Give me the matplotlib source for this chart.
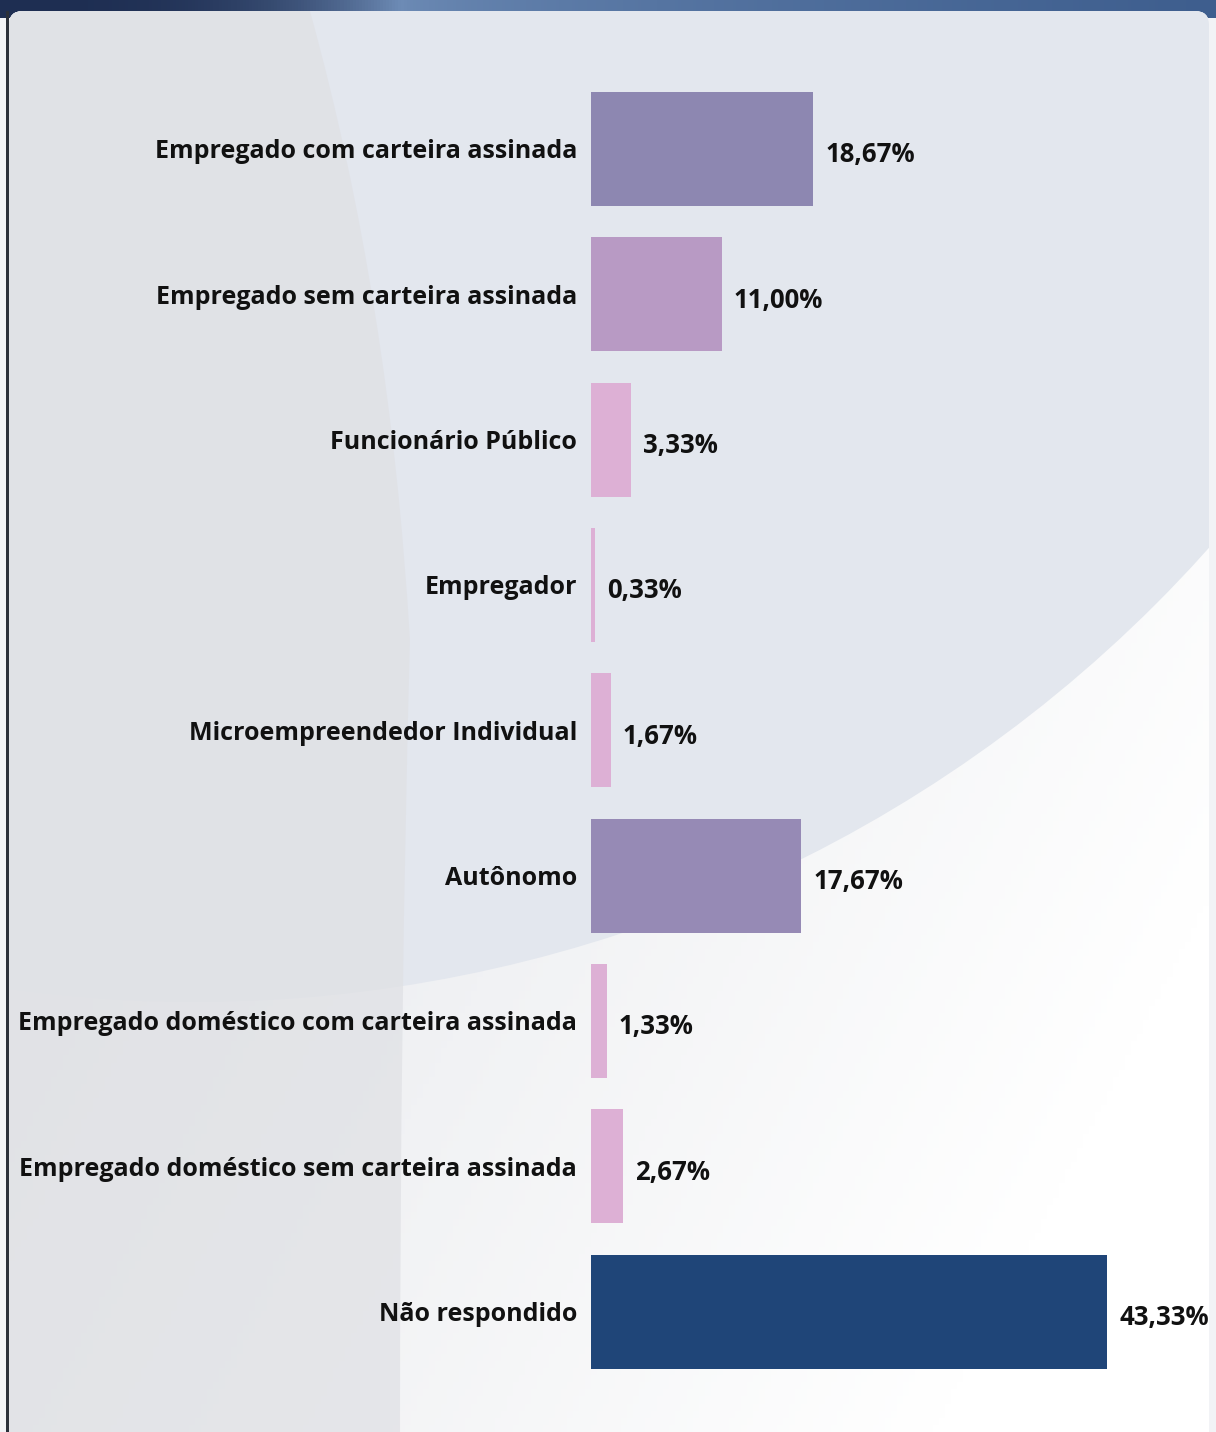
import matplotlib
matplotlib.use("Agg")
import matplotlib.pyplot as plt
import numpy as np
from matplotlib.patches import Rectangle, Circle, FancyBboxPatch, PathPatch
from matplotlib.path import Path

categories = [
    "Empregado com carteira assinada",
    "Empregado sem carteira assinada",
    "Funcionário Público",
    "Empregador",
    "Microempreendedor Individual",
    "Autônomo",
    "Empregado doméstico com carteira assinada",
    "Empregado doméstico sem carteira assinada",
    "Não respondido",
]
values = [18.67, 11.00, 3.33, 0.33, 1.67, 17.67, 1.33, 2.67, 43.33]
value_labels = ["18,67%", "11,00%", "3,33%", "0,33%", "1,67%", "17,67%", "1,33%", "2,67%", "43,33%"]
colors = ["#8D87B1", "#B89AC4", "#DDB0D5", "#DDB0D5", "#DDB0D5", "#968AB5", "#DDB0D5", "#DDB0D5", "#1F4578"]

W, H = 1216, 1432
fig = plt.figure(figsize=(W / 100, H / 100), dpi=100)
fig.patch.set_facecolor("#F2F3F6")

# ---- decorative background ----
bg = fig.add_axes([0, 0, 1, 1])
bg.set_xlim(0, W)
bg.set_ylim(H, 0)
bg.axis("off")

# top band gradient (dark blue)
band = np.zeros((1, 400, 3))
xs = np.linspace(0, 1, 400)
c_dark = np.array([0x1E, 0x2E, 0x52]) / 255
c_light = np.array([0x6E, 0x8C, 0xB6]) / 255
c_mid = np.array([0x3E, 0x5E, 0x8E]) / 255
for i, t in enumerate(xs):
    if t < 0.33:
        c = c_dark + (c_light - c_dark) * (t / 0.33) ** 3
    else:
        c = c_light + (c_mid - c_light) * ((t - 0.33) / 0.67) ** 0.6
    band[0, i] = c
bg.imshow(band, extent=(0, W, 18, 0), aspect="auto", zorder=0)

panel = FancyBboxPatch((9, 11), W - 16, H + 40, boxstyle="round,pad=0,rounding_size=14",
                       facecolor="#FFFFFF", edgecolor="none", zorder=1)
bg.add_patch(panel)

# soft grey-to-white gradient on the panel
yy, xx = np.mgrid[0:1:200j, 0:1:200j]
shade = np.zeros((200, 200, 4))
shade[..., :3] = np.array([0xE4, 0xE6, 0xEA]) / 255
shade[..., 3] = np.clip(1.25 - 0.9 * xx - 0.55 * yy, 0, 1)
im = bg.imshow(shade, extent=(9, W - 7, H, 11), aspect="auto", zorder=2)
im.set_clip_path(panel)

# large bluish disc in the upper area
disc = Circle((195, -357), 1359, facecolor="#E3E7EE", edgecolor="none", zorder=3)
bg.add_patch(disc)
disc.set_clip_path(panel)

# darker grey region on the left
verts = [(9, 11), (310, 11), (390, 300), (410, 640), (400, 1000), (400, H + 5), (9, H + 5), (9, 11)]
codes = [Path.MOVETO, Path.LINETO, Path.CURVE3, Path.CURVE3, Path.CURVE3, Path.LINETO,
         Path.LINETO, Path.CLOSEPOLY]
left = PathPatch(Path(verts, codes), facecolor="#DFE0E4", edgecolor="none", alpha=0.7, zorder=4)
bg.add_patch(left)
left.set_clip_path(panel)

bg.add_patch(Rectangle((6, 11), 2.5, H, facecolor="#2B303A", edgecolor="none", zorder=5))

# ---- chart ----
px_per_unit = 516 / 43.33
left_px = 591
ax_w_px = W - left_px
ax_top_px = 76.25
ax_bot_px = 1384.25
ax = fig.add_axes([left_px / W, 1 - ax_bot_px / H, ax_w_px / W, (ax_bot_px - ax_top_px) / H])
ax.set_facecolor("none")
ax.set_xlim(0, ax_w_px / px_per_unit)
ax.set_ylim(len(categories) - 0.5, -0.5)
y = np.arange(len(categories))
ax.barh(y, values, height=0.784, color=colors, zorder=5)
for spine in ax.spines.values():
    spine.set_visible(False)
ax.set_xticks([])
ax.set_yticks(y)
ax.set_yticklabels(categories, fontsize=18, fontweight="bold", family="Open Sans", color="#111111")
ax.tick_params(axis="y", length=0, pad=10)
for yi, v, lab in zip(y, values, value_labels):
    ax.annotate(lab, (v, yi + 0.04), xytext=(12, 0), textcoords="offset pixels",
                va="center", ha="left", fontsize=18.5, fontweight="bold", family="Open Sans",
                color="#111111")

fig.savefig("out.png", dpi=100, facecolor=fig.get_facecolor())
